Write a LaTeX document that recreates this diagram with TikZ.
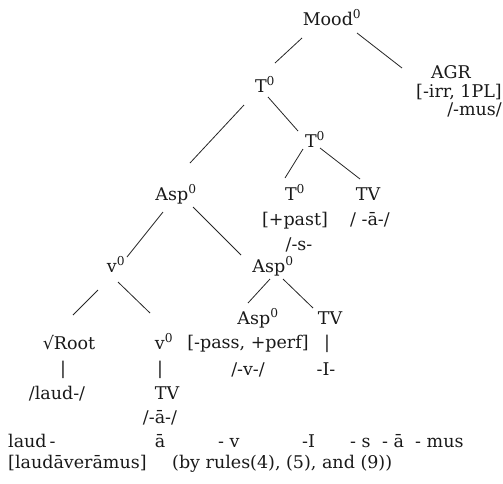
\documentclass[tikz,border=0pt]{standalone}
\usepackage{fontspec}
\setmainfont{DejaVu Serif}
\begin{document}
\begin{tikzpicture}[x=1pt,y=-1pt,
  lbl/.style={anchor=base,inner sep=0pt,text=black!90,font=\fontsize{17.5}{20}\selectfont},
  lbw/.style={lbl,anchor=base west},
  lbe/.style={lbl,anchor=base east},
  edge/.style={line width=0.8pt,draw=black!85}]
\useasboundingbox (0,0) rectangle (503,483);
\newcommand{\zr}{\textsuperscript{0}}
% nodes
\node[lbl] (mood) at (332,25) {Mood\zr};
\node[lbl] (t1) at (265,92) {T\zr};
\node[lbl] (agr) at (451,78) {AGR};
\node[lbe] (agrf) at (502,97) {[-irr, 1PL]};
\node[lbe] (agrm) at (502,115) {/-mus/};
\node[lbl] (t2) at (315,147) {T\zr};
\node[lbl] (asp1) at (176,200) {Asp\zr};
\node[lbl] (t3) at (295,200) {T\zr};
\node[lbl] (tv1) at (368,200) {TV};
\node[lbl] (past) at (295,225) {[+past]};
\node[lbl] (sfx) at (299,250) {/-s-};
\node[lbl] (tvf) at (370,225) {/ -ā-/};
\node[lbl] (v1) at (116,272) {v\zr};
\node[lbl] (asp2) at (273,272) {Asp\zr};
\node[lbl] (root) at (69,349) {√Root};
\node[lbl] (v2) at (164,349) {v\zr};
\node[lbl] (asp3) at (258,324) {Asp\zr};
\node[lbl] (tv2) at (330,324) {TV};
\node[lbl] (pass) at (248,348) {[-pass, +perf]};
\node[lbl] (bar3) at (327,348) {|};
\node[lbl] (vv) at (248,375) {/-v-/};
\node[lbl] (ii) at (326,375) {-I-};
\node[lbl] (bar1) at (63,374) {|};
\node[lbl] (bar2) at (160,374) {|};
\node[lbl] (laud) at (57,399) {/laud-/};
\node[lbl] (tv3) at (167,399) {TV};
\node[lbl] (aa) at (160,423) {/-ā-/};
% bottom rows
\node[lbw] (m1) at (8,447) {laud\,-};
\node[lbl] (m2) at (160,447) {ā};
\node[lbw] (m3) at (218,447) {- v};
\node[lbw] (m4) at (302,447) {-I};
\node[lbw] (m5) at (350,447) {- s};
\node[lbw] (m6) at (382,447) {- ā};
\node[lbw] (m7) at (415,447) {- mus};
\node[lbw] (form) at (8,468) {[laudāverāmus]};
\node[lbw] (rules) at (172,468) {(by rules(4), (5), and (9))};
% connectors
\draw[edge] ([shift={(-30,13)}]mood.base) -- ([shift={(10,-29)}]t1.base);
\draw[edge] ([shift={(25,8)}]mood.base) -- ([shift={(-49,-10)}]agr.base);
\draw[edge] ([shift={(3,5)}]t1.base) -- ([shift={(-17,-16)}]t2.base);
\draw[edge] ([shift={(-21,13)}]t1.base) -- ([shift={(14,-37)}]asp1.base);
\draw[edge] ([shift={(-12,2)}]t2.base) -- ([shift={(-10,-22)}]t3.base);
\draw[edge] ([shift={(5,1)}]t2.base) -- ([shift={(-8,-21)}]tv1.base);
\draw[edge] ([shift={(-13,12)}]asp1.base) -- ([shift={(11,-15)}]v1.base);
\draw[edge] ([shift={(17,7)}]asp1.base) -- ([shift={(-32,-17)}]asp2.base);
\draw[edge] ([shift={(-18,18)}]v1.base) -- ([shift={(4,-34)}]root.base);
\draw[edge] ([shift={(2,10)}]v1.base) -- ([shift={(-14,-36)}]v2.base);
\draw[edge] ([shift={(-3,7)}]asp2.base) -- ([shift={(-10,-21)}]asp3.base);
\draw[edge] ([shift={(10,7)}]asp2.base) -- ([shift={(-17,-16)}]tv2.base);
\end{tikzpicture}
\end{document}
